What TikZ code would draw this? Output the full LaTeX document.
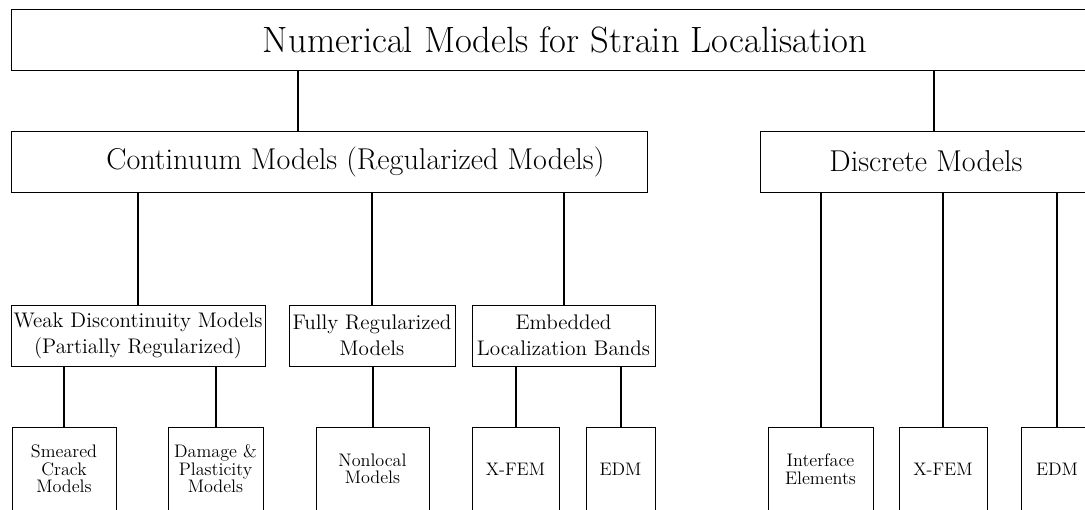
\documentclass[tikz,border=0pt]{standalone}
\usepackage{amsmath}
\usepackage{tikz}
\usetikzlibrary{calc}

\begin{document}
\begin{tikzpicture}[x=0.7pt, y=-0.7pt]

\tikzstyle{box1}=[rectangle, draw, inner sep=0pt, minimum height=42.7pt, align=center]
\tikzstyle{box2}=[rectangle, draw, inner sep=0pt, minimum height=42.7pt, align=center, font=\fontsize{14.8}{18.2}\selectfont]
\tikzstyle{box3}=[rectangle, draw, inner sep=0pt, minimum height=58.8pt, align=center, font=\fontsize{12.7}{12.2}\selectfont]
\tikzstyle{link}=[line width=1.4pt]

\useasboundingbox (0,0) rectangle (1085,509);
\clip (0,0) rectangle (1085,509);

\node (num)  [box1, font=\fontsize{25.6}{30}\selectfont, minimum width=775.6pt] at (565,39.5) {Numerical Models for Strain Localisation};

\node (cont) [box1, font=\fontsize{21.1}{25}\selectfont, minimum width=445.2pt] at (329,161.5) {\hspace*{37pt}Continuum Models (Regularized Models)};
\node (disc) [box1, font=\fontsize{21.1}{25}\selectfont, minimum width=232.4pt] at (926,161.5) {Discrete Models};

\node (weak) [box2, minimum width=177.8pt] at (138,335.5)   {Weak Discontinuity Models\\(Partially Regularized)};
\node (full) [box2, minimum width=116.2pt] at (372,335.5)   {Fully Regularized\\Models};
\node (emb)  [box2, minimum width=128.1pt] at (563.5,335.5) {Embedded\\Localization Bands};

\node (smear)  [box3, minimum width=72.8pt] at (64,469)    {Smeared\\Crack\\Models};
\node (dam)    [box3, minimum width=66.5pt] at (215.5,469) {Damage \&\\Plasticity\\Models};
\node (nonloc) [box3, minimum width=79.1pt] at (372.5,469) {Nonlocal\\Models};
\node (xfem)   [box3, minimum width=60.9pt] at (515.5,469) {X-FEM};
\node (edm)    [box3, minimum width=48.3pt] at (620.5,469) {EDM};
\node (inter)  [box3, minimum width=73.5pt] at (820.5,469) {Interface\\Elements};
\node (xfemd)  [box3, minimum width=61.6pt] at (943,469)   {X-FEM};
\node (edmd)   [box3, minimum width=50.4pt] at (1057,469)  {EDM};

\coordinate (jc) at ($(cont.north west)!0.451!(cont.north east)$);
\coordinate (jd) at ($(disc.north west)!0.524!(disc.north east)$);
\draw[link] (jc) -- (jc |- num.south);
\draw[link] (jd) -- (jd |- num.south);

\draw[link] (weak.north) -- (weak.north |- cont.south);
\draw[link] (full.north) -- (full.north |- cont.south);
\draw[link] (emb.north)  -- (emb.north |- cont.south);

\draw[link] (smear.north)  -- (smear.north |- weak.south);
\draw[link] (dam.north)    -- (dam.north |- weak.south);
\draw[link] (nonloc.north) -- (nonloc.north |- full.south);
\draw[link] (xfem.north)   -- (xfem.north |- emb.south);
\draw[link] (edm.north)    -- (edm.north |- emb.south);

\draw[link] (inter.north) -- (inter.north |- disc.south);
\draw[link] (xfemd.north) -- (xfemd.north |- disc.south);
\draw[link] (edmd.north)  -- (edmd.north |- disc.south);
\end{tikzpicture}
\end{document}
